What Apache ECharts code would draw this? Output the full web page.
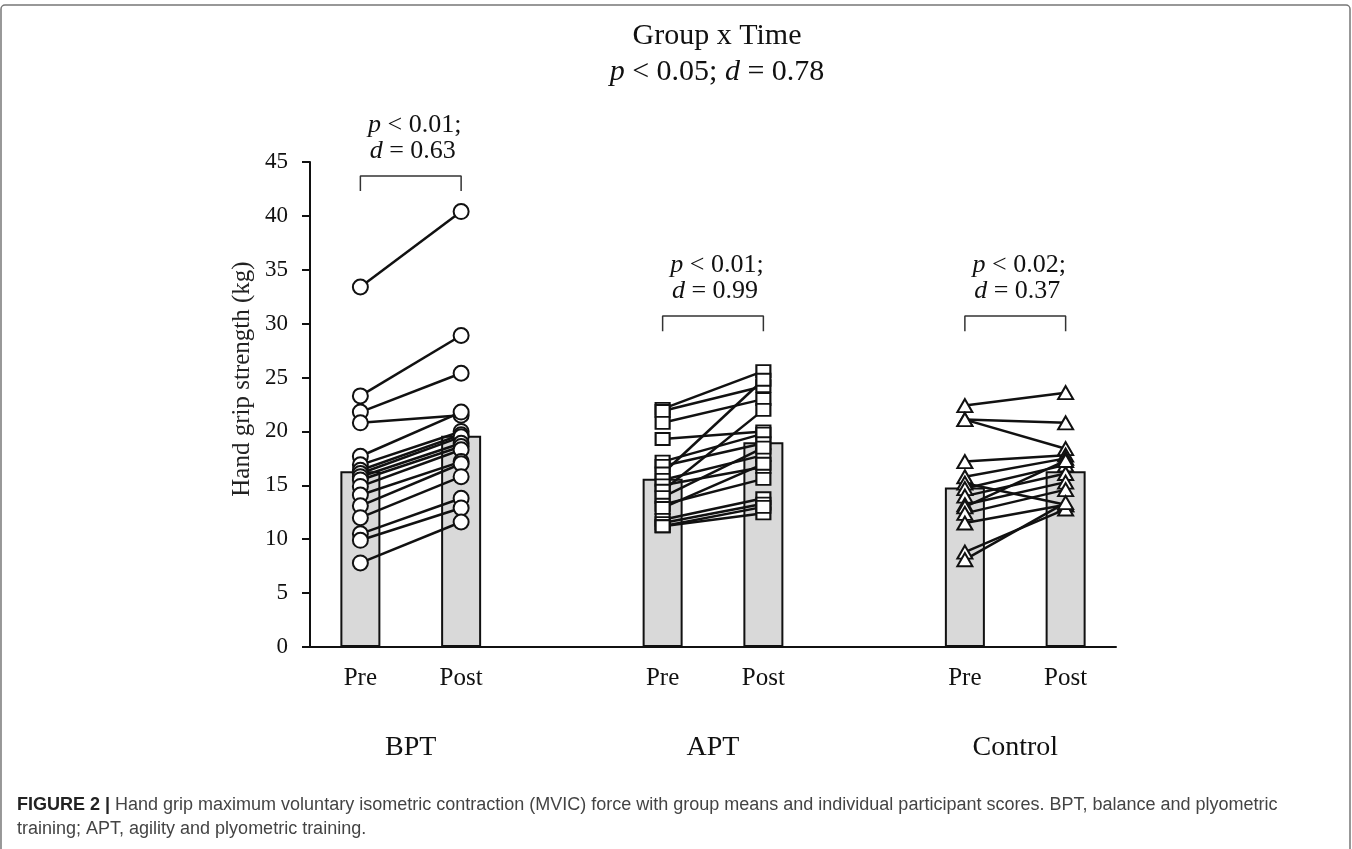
<!DOCTYPE html>
<html>
<head>
<meta charset="utf-8">
<script src="https://cdn.jsdelivr.net/npm/echarts@6/dist/echarts.min.js"></script>
<style>
  html, body { margin: 0; padding: 0; background: #fff; }
  #main { width: 1352px; height: 849px; }
</style>
</head>
<body>
<div id="main"></div>
<script>
// Hand grip MVIC: group means (bars) + individual pre/post scores
const tickLabels = ['Pre', 'Post', '', 'Pre', 'Post', '', 'Pre', 'Post'];
const groupNames = ['BPT', 'APT', 'Control'];
const meanValues = [16.3, 19.6, '-', 15.6, 19.0, '-', 14.8, 16.3];

const bptPre  = [33.4, 23.3, 21.8, 20.8, 17.7, 16.9, 16.4, 16.1, 15.8, 15.5, 14.9, 14.1, 13.1, 12.0, 10.5, 9.9, 7.8];
const bptPost = [40.4, 28.9, 25.4, 21.5, 21.8, 20.0, 19.7, 19.5, 18.9, 18.6, 18.3, 17.2, 17.0, 15.8, 13.8, 12.9, 11.6];

const aptPre  = [22.1, 21.9, 20.8, 19.3, 17.2, 16.8, 16.1, 15.5, 15.0, 14.5, 13.9, 13.2, 12.9, 11.8, 11.5, 11.2, 11.2];
const aptPost = [25.6, 24.2, 23.0, 20.0, 19.8, 18.9, 24.8, 17.8, 16.7, 22.0, 18.5, 15.6, 17.0, 13.8, 13.3, 12.4, 13.0];

const ctrlPre  = [22.4, 21.1, 21.1, 17.2, 15.8, 15.2, 14.7, 14.0, 13.2, 13.0, 12.4, 11.5, 8.8, 8.1];
const ctrlPost = [23.6, 20.8, 18.4, 17.8, 17.5, 13.2, 16.9, 16.1, 15.3, 17.3, 14.6, 13.2, 12.8, 13.4];

const pLabels = ['< 0.01;', '< 0.01;', '< 0.02;'];
const dLabels = ['= 0.63', '= 0.99', '= 0.37'];

(function(){
  const el = document.getElementById('main');
  const chart = echarts.init(el);
  const serif = 'Liberation Serif';
  const black = '#111';

  // which categories each group occupies, marker, bracket height (kg)
  const groups = [
    { pre: bptPre,  post: bptPost,  xi: [0, 1], symbol: 'circle',   size: 15,       bracket: 43.7 },
    { pre: aptPre,  post: aptPost,  xi: [3, 4], symbol: 'rect',     size: [14, 12], bracket: 30.7 },
    { pre: ctrlPre, post: ctrlPost, xi: [6, 7], symbol: 'triangle', size: [15, 13], bracket: 30.7 }
  ];

  const series = [{
    type: 'bar',
    data: meanValues,
    barWidth: 40,
    itemStyle: { color: '#d9d9d9', borderColor: black, borderWidth: 2 },
    z: 1,
    silent: true
  }];

  groups.forEach(function(g){
    g.pre.forEach(function(v, i){
      series.push({
        type: 'line',
        data: [[g.xi[0], v], [g.xi[1], g.post[i]]],
        symbol: g.symbol,
        symbolSize: g.size,
        showAllSymbol: true,
        lineStyle: { color: black, width: 2.5 },
        itemStyle: { color: '#fff', borderColor: black, borderWidth: 2 },
        z: 3,
        silent: true
      });
    });
    // significance bracket
    const tick = 1.4;
    series.push({
      type: 'line',
      data: [[g.xi[0], g.bracket - tick], [g.xi[0], g.bracket], [g.xi[1], g.bracket], [g.xi[1], g.bracket - tick]],
      symbol: 'none',
      lineStyle: { color: '#333', width: 1.5 },
      z: 2,
      silent: true
    });
  });

  chart.setOption({
    animation: false,
    backgroundColor: '#fff',
    grid: { left: 310, right: 236, top: 162, bottom: 202, outerBoundsMode: 'none' },
    xAxis: {
      type: 'category',
      data: tickLabels,
      axisLine: { lineStyle: { color: black, width: 2 } },
      axisTick: { alignWithLabel: true, interval: 0, length: 7, lineStyle: { color: black, width: 2 } },
      axisLabel: { interval: 0, fontFamily: serif, fontSize: 25, color: '#111', margin: 19 }
    },
    yAxis: {
      type: 'value',
      min: 0, max: 45, interval: 5,
      axisLine: { show: true, lineStyle: { color: black, width: 2 } },
      axisTick: { show: true, length: 8, lineStyle: { color: black, width: 2 } },
      axisLabel: { fontFamily: serif, fontSize: 23, color: '#111', margin: 22 },
      splitLine: { show: false }
    },
    series: series
  });

  // annotations placed from the axis scales
  const rich = { i: { fontStyle: 'italic', fontFamily: serif, fontSize: 26, color: '#111' } };
  const graphics = [
    { type: 'rect', shape: { x: 1, y: 5, width: 1349, height: 880, r: 4 },
      style: { fill: 'none', stroke: '#777', lineWidth: 1.5 }, silent: true },
    { type: 'text', x: 717, y: 36, style: { text: 'Group x Time', font: '30px "Liberation Serif"', fill: '#111', align: 'center', verticalAlign: 'middle' } },
    { type: 'text', x: 717, y: 72, style: { text: '{j|p} < 0.05; {j|d} = 0.78', font: '30px "Liberation Serif"', fill: '#111', align: 'center', verticalAlign: 'middle',
      rich: { j: { fontStyle: 'italic', fontFamily: serif, fontSize: 30, fill: '#111' } } } },
    { type: 'text', x: 242, y: 379, rotation: Math.PI / 2, style: { text: 'Hand grip strength (kg)', font: '25px "Liberation Serif"', fill: '#222', align: 'center', verticalAlign: 'middle' } },
    { type: 'text', x: 17, y: 805, style: { text: '{b|FIGURE 2 |} Hand grip maximum voluntary isometric contraction (MVIC) force with group means and individual participant scores. BPT, balance and plyometric',
      font: '18px "Liberation Sans"', fill: '#444', verticalAlign: 'middle',
      rich: { b: { fontWeight: 'bold', fontFamily: 'Liberation Sans', fontSize: 18, fill: '#222' } } } },
    { type: 'text', x: 17, y: 829, style: { text: 'training; APT, agility and plyometric training.', font: '18px "Liberation Sans"', fill: '#444', verticalAlign: 'middle' } }
  ];

  groups.forEach(function(g, k){
    const a = chart.convertToPixel({ gridIndex: 0 }, [g.xi[0], g.bracket]);
    const b = chart.convertToPixel({ gridIndex: 0 }, [g.xi[1], g.bracket]);
    const cx = (a[0] + b[0]) / 2;
    graphics.push({ type: 'text', x: cx + 4, y: a[1] - 51, style: { text: '{i|p} ' + pLabels[k], font: '26px "Liberation Serif"', fill: '#111', align: 'center', verticalAlign: 'middle', rich: rich } });
    graphics.push({ type: 'text', x: cx + 2, y: a[1] - 25, style: { text: '{i|d} ' + dLabels[k], font: '26px "Liberation Serif"', fill: '#111', align: 'center', verticalAlign: 'middle', rich: rich } });
    const base = chart.convertToPixel({ gridIndex: 0 }, [g.xi[0], 0]);
    graphics.push({ type: 'text', x: cx, y: base[1] + 101, style: { text: groupNames[k], font: '28px "Liberation Serif"', fill: '#111', align: 'center', verticalAlign: 'middle' } });
  });

  chart.setOption({ graphic: graphics });
})();
</script>
</body>
</html>
